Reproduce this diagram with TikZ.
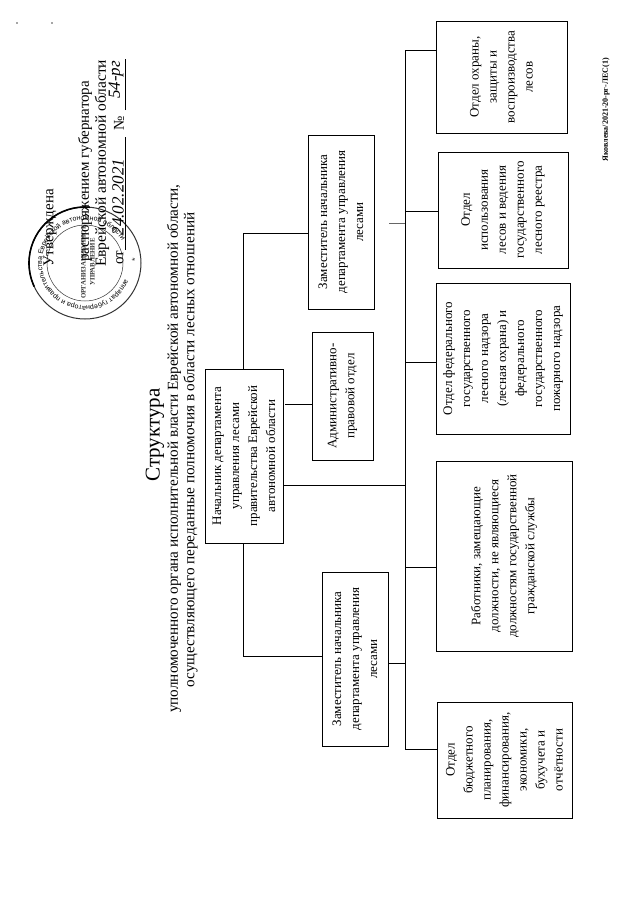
\documentclass[tikz,border=0pt]{standalone}
\usepackage{fontspec}
\setmainfont{Liberation Serif}
\usetikzlibrary{decorations.text}
\newfontfamily\stampfont{Liberation Sans}
\tikzset{
  x=1pt,y=1pt,
  orgbox/.style={draw=black,line width=0.9pt,fill=white,inner sep=0pt,rotate=90,align=center,anchor=center,font=\fontsize{13}{18}\selectfont},
  link/.style={draw=black,line width=0.8pt},
  linkgray/.style={draw=black!60,line width=0.8pt},
  vtext/.style={rotate=90,inner sep=0pt,align=center},
  heading/.style={vtext,font=\fontsize{15.2}{18}\selectfont},
  decree/.style={vtext,anchor=west,font=\fontsize{15}{18}\selectfont},
  hand/.style={vtext,font=\fontsize{17}{18}\selectfont\itshape},
}
\begin{document}
\begin{tikzpicture}
\useasboundingbox (0,0) rectangle (639,-905);
\fill[white] (0,0) rectangle (639,-905);
% specks
\fill[black!70] (17,-23) circle (0.8);
\fill[black!70] (52,-23) circle (0.8);
% stamp
\begin{scope}[black!80]
\draw[line width=1pt] (85,-263) circle (56);
\draw[line width=1.6pt,black] (85,-263) ++(85:56) arc[start angle=85,end angle=205,radius=56];
\draw[line width=0.5pt] (85,-263) circle (38);
\path[decorate,decoration={text along path,raise=0pt,text align=left,
  text={|\stampfont\fontsize{7}{7}\selectfont|аппарат губернатора и правительства Еврейской автономной области}}]
  (85,-263) ++(-22:43) arc[start angle=-22,end angle=-335,radius=43];
\node[rotate=90,inner sep=0pt,font=\stampfont\fontsize{9}{9}\selectfont] (star) at (135,-260) {*};
\node[vtext,font=\fontsize{6.8}{9}\bfseries\selectfont] (org) at (88,-262) {ОРГАНИЗАЦИОННОЕ\\УПРАВЛЕНИЕ};
\end{scope}
% decree
\node[decree] (utv) at (50,-267) {Утверждена};
\node[decree] (rasp) at (85,-262) {распоряжением губернатора};
\node[decree,font=\fontsize{15.5}{18}\selectfont] (evr) at (102,-267) {Еврейской автономной области};
\node[decree] (ot) at (120,-265) {от};
\node[decree,anchor=center] (nom) at (119,-123) {№};
\coordinate (l1a) at (125,-250); \coordinate (l1b) at (125,-137);
\coordinate (l2a) at (125,-110); \coordinate (l2b) at (125,-59);
\draw[line width=0.7pt] (l1a) -- (l1b);
\draw[line width=0.7pt] (l2a) -- (l2b);
\node[hand] (date) at (118,-197) {24.02.2021};
\node[hand] (num) at (116,-80) {54-рг};
% title
\node[heading,font=\fontsize{21}{21}\selectfont] (t1) at (155,-435) {Структура};
\node[heading] (t2) at (174,-448.5) {уполномоченного органа исполнительной власти Еврейской автономной области,};
\node[heading] (t3) at (190.5,-450) {осуществляющего переданные полномочия в области лесных отношений};
% footer
\node[vtext,font=\fontsize{8}{8}\bfseries\selectfont] (foot) at (606,-110) {Яковлева/2021-20-рг-ЛЕС(1)};
% boxes: minimum width is along the page's y (rotated)
\node[orgbox,minimum width=174,minimum height=78] (head) at (244,-456) {Начальник департамента\\управления лесами\\правительства Еврейской\\автономной области};
\node[orgbox,minimum width=174,minimum height=66] (dep1) at (341,-222) {Заместитель начальника\\департамента управления\\лесами};
\node[orgbox,minimum width=128,minimum height=61] (adm) at (342.5,-396) {Административно-\\правовой отдел};
\node[orgbox,minimum width=174,minimum height=66] (dep2) at (355,-659) {Заместитель начальника\\департамента управления\\лесами};
\node[orgbox,minimum width=112,minimum height=131] (ohr) at (501.5,-77) {Отдел охраны,\\защиты и\\воспроизводства\\лесов};
\node[orgbox,minimum width=116,minimum height=130] (isp) at (503,-210) {Отдел\\использования\\лесов и ведения\\государственного\\лесного реестра};
\node[orgbox,minimum width=151,minimum height=134] (fed) at (503,-358.5) {Отдел федерального\\государственного\\лесного надзора\\(лесная охрана) и\\федерального\\государственного\\пожарного надзора};
\node[orgbox,minimum width=190,minimum height=136] (rab) at (504,-556) {Работники, замещающие\\должности, не являющиеся\\должностям государственной\\гражданской службы};
\node[orgbox,minimum width=116,minimum height=135] (bud) at (504.5,-760) {Отдел\\бюджетного\\планирования,\\финансирования,\\экономики,\\бухучета и\\отчётности};
% connectors
\coordinate (bustop) at (405,-50);
\coordinate (busbot) at (405,-749);
\draw[link] (bustop) -- (busbot);
\draw[link] (bustop) -- (bustop -| ohr.north);
\draw[link] (405,-211) -- (isp.north |- 405,-211);
\draw[link] (405,-362) -- (fed.north |- 405,-362);
\draw[link] (405,-567) -- (rab.north |- 405,-567);
\draw[link] (busbot) -- (busbot -| bud.north);
\draw[link] (head.south |- 405,-485) -- (405,-485);
\draw[link] (dep2.south |- 405,-663) -- (405,-663);
\coordinate (stub) at (389,-223);
\draw[linkgray] (stub) -- (405,-223);
\coordinate (hbr) at (285,-404);
\draw[link] (hbr) -- (adm.north |- hbr);
\coordinate (tu) at (243,-233);
\coordinate (td) at (243,-656);
\draw[link] (243,-369) -- (tu) -- (dep1.north |- tu);
\draw[link] (243,-543) -- (td) -- (dep2.north |- td);
\end{tikzpicture}
\end{document}
